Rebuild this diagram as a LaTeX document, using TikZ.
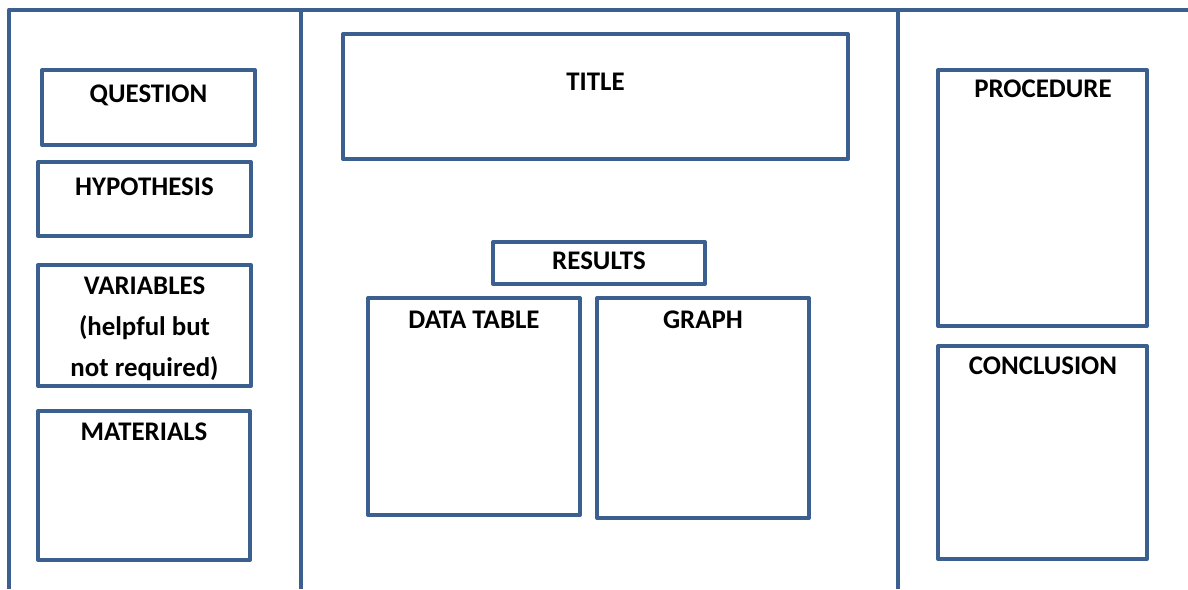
\documentclass[tikz,border=0pt]{standalone}
\usepackage{fontspec}
\setmainfont{Carlito}

\definecolor{boardblue}{HTML}{3B5F8F}

\tikzset{
  panel/.style={draw=boardblue,line width=0.08cm,line join=round},
  heading/.style={font=\fontsize{15.3}{23.3}\selectfont\bfseries,anchor=base,inner sep=0pt,align=center}
}

\begin{document}
\begin{tikzpicture}[x=0.02cm,y=-0.02cm]
\useasboundingbox (0,0) rectangle (1188,589);
% outer frame and the two folds
\draw[panel] (9,589) -- (9,9.5) -- (1188,9.5);
\foreach \fold in {300.5,898}{%
  \draw[panel] (\fold,9.5) -- (\fold,589);
}
% left wing
\draw[panel] (42,70) rectangle (255,145);
\draw[panel] (38,162) rectangle (251,236);
\draw[panel] (38,265) rectangle (251,386);
\draw[panel] (38,411) rectangle (250,560);
\node[heading] (question) at (148.5,102) {QUESTION};
\node[heading] (hypothesis) at (144.5,195) {HYPOTHESIS};
% base sits on the last line here
\node[heading] (variables) at (144.5,376) {VARIABLES\\(helpful but\\not required)};
\node[heading] (materials) at (144,440) {MATERIALS};
% centre panel
\draw[panel] (343,34) rectangle (848,159);
\draw[panel] (493,242) rectangle (705,284);
\draw[panel] (368,298) rectangle (580,515);
\draw[panel] (597,298) rectangle (809,518);
\node[heading] (title) at (595.5,90.5) {TITLE};
\node[heading] (results) at (599,269.5) {RESULTS};
\node[heading] (datatable) at (474,328.5) {DATA TABLE};
\node[heading] (graph) at (703,328.5) {GRAPH};
% right wing
\draw[panel] (938,70) rectangle (1147,326);
\draw[panel] (938,346) rectangle (1147,559);
\node[heading] (procedure) at (1043,97) {PROCEDURE};
\node[heading] (conclusion) at (1043,374.5) {CONCLUSION};
\end{tikzpicture}
\end{document}
